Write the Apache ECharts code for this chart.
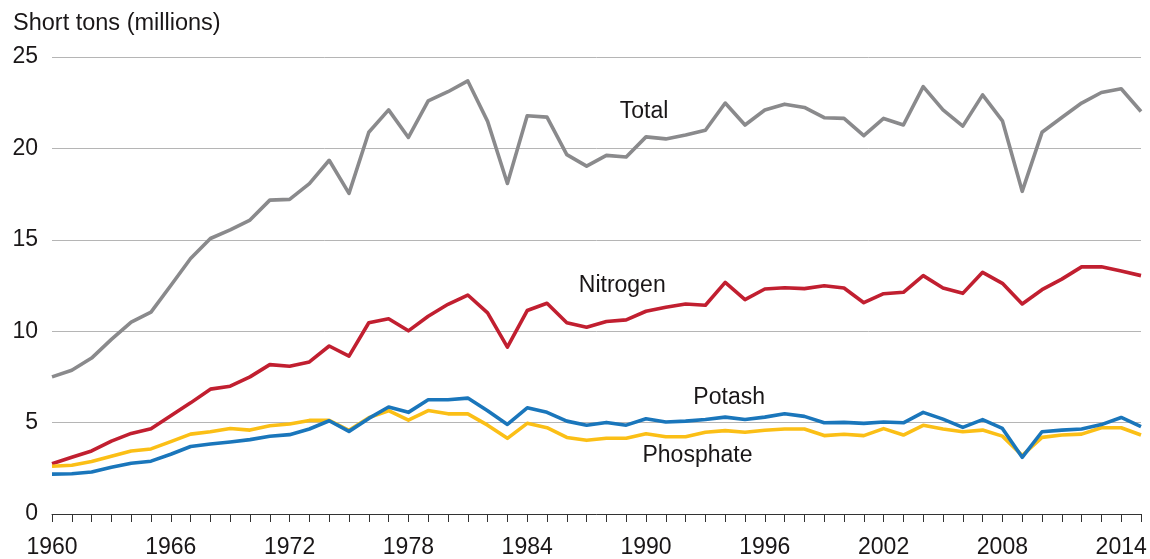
<!DOCTYPE html>
<html>
<head>
<meta charset="utf-8">
<script src="https://cdn.jsdelivr.net/npm/echarts@6/dist/echarts.min.js"></script>
<style>
html,body{margin:0;padding:0;background:#fff;}
#chart{width:1150px;height:559px;}
</style>
</head>
<body>
<div id="chart"></div>
<script>
const years = [];
for (let y = 1960; y <= 2015; y++) years.push(String(y));

const total = [7.5,7.86,8.53,9.55,10.5,11.04,12.5,13.98,15.07,15.54,16.08,17.17,17.21,18.07,19.35,17.54,20.88,22.11,20.6,
  22.6,23.1,23.69,21.48,18.08,21.79,21.71,19.66,19.03,19.62,19.53,20.63,20.52,20.73,20.99,22.48,21.28,22.1,
  22.42,22.24,21.68,21.64,20.7,21.64,21.28,23.38,22.11,21.22,22.93,21.51,17.65,20.88,21.69,22.48,23.06,23.26,22.02];
const nitrogen = [2.75,3.1,3.45,3.99,4.41,4.67,5.38,6.08,6.83,6.99,7.5,8.17,8.08,8.32,9.19,8.64,10.46,10.68,10.02,
  10.82,11.47,11.98,11.0,9.13,11.13,11.53,10.46,10.22,10.53,10.62,11.09,11.31,11.49,11.42,12.67,11.73,12.31,
  12.38,12.33,12.49,12.36,11.56,12.05,12.13,13.04,12.36,12.07,13.22,12.62,11.49,12.27,12.85,13.52,13.52,13.29,13.04];
const potash = [2.18,2.2,2.3,2.56,2.78,2.89,3.27,3.69,3.83,3.94,4.07,4.25,4.34,4.65,5.1,4.52,5.23,5.85,5.56,
  6.25,6.25,6.34,5.65,4.9,5.81,5.56,5.08,4.86,5.01,4.86,5.21,5.03,5.08,5.17,5.3,5.17,5.3,
  5.48,5.34,4.99,5.01,4.96,5.03,4.99,5.56,5.19,4.74,5.16,4.68,3.1,4.5,4.59,4.65,4.89,5.28,4.78];
const phosphate = [2.61,2.67,2.87,3.16,3.45,3.56,3.96,4.37,4.5,4.68,4.59,4.83,4.92,5.12,5.12,4.58,5.27,5.65,5.13,
  5.66,5.48,5.48,4.86,4.14,4.96,4.72,4.19,4.03,4.14,4.14,4.39,4.23,4.23,4.47,4.56,4.47,4.58,
  4.65,4.65,4.29,4.36,4.29,4.67,4.32,4.85,4.65,4.5,4.59,4.26,3.2,4.19,4.32,4.37,4.72,4.72,4.32];

const seriesLabels = [
  [1989.9, 22.0, 'Total'],
  [1988.8, 12.47, 'Nitrogen'],
  [1994.2, 6.37, 'Potash'],
  [1992.6, 3.2, 'Phosphate']
];
const yTicks = [0, 5, 10, 15, 20, 25];

const FONT = '"Liberation Sans", Arial, Helvetica, sans-serif';
const TXT = '#1a1718';

const chart = echarts.init(document.getElementById('chart'), null, {renderer: 'canvas'});
const lineSeries = (name, data, color) => ({
  name, type: 'line', data, xAxisIndex: 0, yAxisIndex: 0,
  showSymbol: false, symbol: 'none', smooth: false,
  lineStyle: {color, width: 3.6, join: 'round'},
  itemStyle: {color}, silent: true
});

chart.setOption({
  animation: false,
  backgroundColor: '#ffffff',
  title: {
    text: 'Short tons (millions)', left: 13, top: 12, padding: 0,
    textStyle: {fontFamily: FONT, fontSize: 23.5, fontWeight: 'normal', color: TXT}
  },
  grid: {left: 52, right: 9, top: 57, bottom: 43, containLabel: false},
  xAxis: [{
    type: 'category', data: years, boundaryGap: false,
    axisLine: {show: true, lineStyle: {color: '#333', width: 1}},
    axisTick: {show: true, interval: 0, length: 8, lineStyle: {color: '#333', width: 1}},
    axisLabel: {interval: 5, margin: 22, fontFamily: FONT, fontSize: 23, color: TXT},
    splitLine: {show: false}
  }, {
    type: 'value', min: 1960, max: 2015, show: false
  }],
  yAxis: {
    type: 'value', min: yTicks[0], max: yTicks[yTicks.length - 1], interval: 5,
    axisLine: {show: false}, axisTick: {show: false},
    axisLabel: {margin: 14, fontFamily: FONT, fontSize: 23, color: TXT},
    splitLine: {show: true, lineStyle: {color: '#b5b5b5', width: 1}}
  },
  series: [
    lineSeries('Total', total, '#8a8a8c'),
    lineSeries('Nitrogen', nitrogen, '#c11f30'),
    lineSeries('Phosphate', phosphate, '#fbbf16'),
    lineSeries('Potash', potash, '#1a76bb'),
    {
      type: 'scatter', xAxisIndex: 1, yAxisIndex: 0, symbolSize: 0, silent: true,
      itemStyle: {opacity: 1},
      data: seriesLabels,
      label: {show: true, position: 'inside', formatter: p => p.value[2],
        fontFamily: FONT, fontSize: 23, color: TXT, opacity: 1, textBorderWidth: 0}
    }
  ]
});
</script>
</body>
</html>
